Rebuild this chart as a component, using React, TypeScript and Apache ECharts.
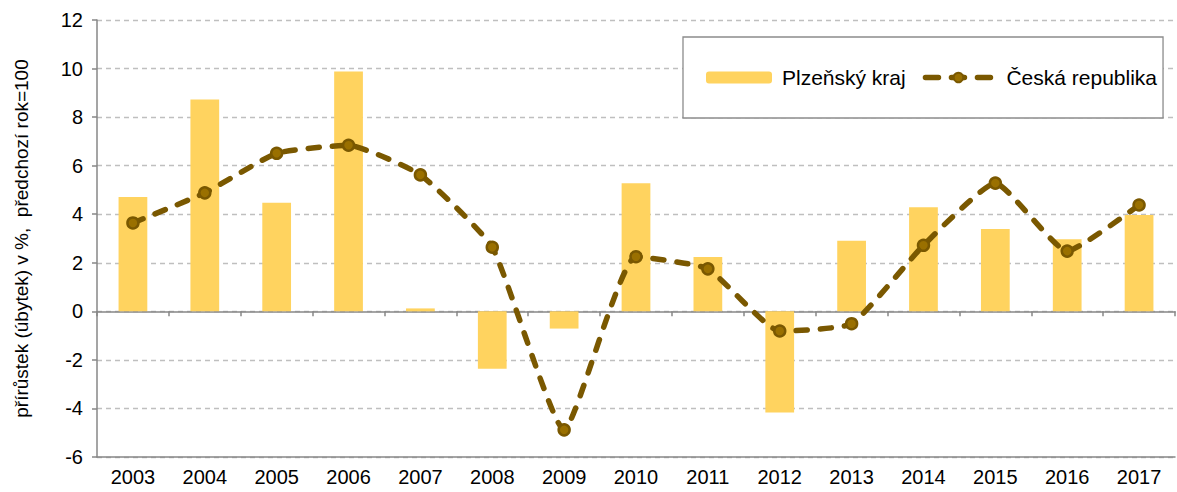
import React, { useEffect, useRef } from "react";
import * as echarts from "echarts";

const years = ["2003","2004","2005","2006","2007","2008","2009","2010","2011","2012","2013","2014","2015","2016","2017"];
const plzensky = [4.71, 8.73, 4.47, 9.88, 0.12, -2.37, -0.71, 5.28, 2.24, -4.17, 2.91, 4.29, 3.39, 2.97, 3.97];
const ceska = [3.64, 4.88, 6.51, 6.84, 5.62, 2.64, -4.88, 2.25, 1.75, -0.81, -0.51, 2.72, 5.28, 2.48, 4.38];
const yTicks = { min: -6, max: 12, interval: 2 };

const FONT = "'Liberation Sans', Arial, sans-serif";
const GRAY = "#878787";

export default function App() {
  const ref = useRef<HTMLDivElement>(null);
  useEffect(() => {
    if (!ref.current) return;
    const chart = echarts.init(ref.current, undefined, { renderer: "svg" });
    chart.setOption({
      animation: false,
      textStyle: { fontFamily: FONT },
      grid: { left: 97, right: 2, top: 20, bottom: 35, containLabel: false },
      legend: {
        left: 683,
        top: 37,
        padding: [30, 6, 30, 23],
        borderColor: "#8c8c8c",
        borderWidth: 1.3,
        backgroundColor: "#ffffff",
        itemWidth: 66,
        itemHeight: 12,
        itemGap: 17,
        textStyle: { fontSize: 21, color: "#000", fontFamily: FONT },
        data: [
          { name: "Plzeňský kraj", textStyle: { padding: [0, 0, 0, 5] } },
          {
            name: "Česká republika",
            textStyle: { padding: [0, 0, 0, 10] },
            lineStyle: { width: 5.5, type: [13, 13], cap: "round", color: "#7a5800" },
          },
        ],
      },
      xAxis: [
        {
          type: "category",
          data: years,
          position: "bottom",
          axisLine: { onZero: false, lineStyle: { color: GRAY, width: 1.5 } },
          axisTick: { show: false },
          axisLabel: { fontSize: 20, color: "#000", margin: 10, fontFamily: FONT },
        },
        {
          type: "category",
          data: years,
          position: "bottom",
          axisLine: { onZero: true, lineStyle: { color: GRAY, width: 1.5 } },
          axisTick: { show: true, length: 5, lineStyle: { color: GRAY, width: 1.5 } },
          axisLabel: { show: false },
        },
      ],
      yAxis: {
        type: "value",
        min: yTicks.min,
        max: yTicks.max,
        interval: yTicks.interval,
        name: "přírůstek (úbytek) v %,  předchozí rok=100",
        nameLocation: "middle",
        nameGap: 66,
        nameTextStyle: { fontSize: 19, color: "#000", fontFamily: FONT },
        axisLine: { show: true, lineStyle: { color: GRAY, width: 1.5 } },
        axisTick: { show: true, length: 5, lineStyle: { color: GRAY, width: 1.5 } },
        axisLabel: { fontSize: 20, color: "#000", margin: 14, fontFamily: FONT },
        splitLine: { show: true, lineStyle: { color: "#bfbfbf", width: 1.3, type: [5, 4] } },
      },
      series: [
        {
          name: "Plzeňský kraj",
          type: "bar",
          xAxisIndex: 0,
          data: plzensky,
          barWidth: "40%",
          itemStyle: { color: "#ffd35f" },
        },
        {
          name: "Česká republika",
          type: "line",
          xAxisIndex: 0,
          data: ceska,
          smooth: 0.15,
          symbol: "circle",
          symbolSize: 11,
          lineStyle: { color: "#7a5800", width: 5.5, type: [11, 13], cap: "round" },
          itemStyle: { color: "#9a7000", borderColor: "#7a5800", borderWidth: 2.5 },
        },
      ],
    });
    return () => chart.dispose();
  }, []);
  return <div ref={ref} style={{ width: 1177, height: 492, position: "absolute", left: 0, top: 0 }} />;
}
